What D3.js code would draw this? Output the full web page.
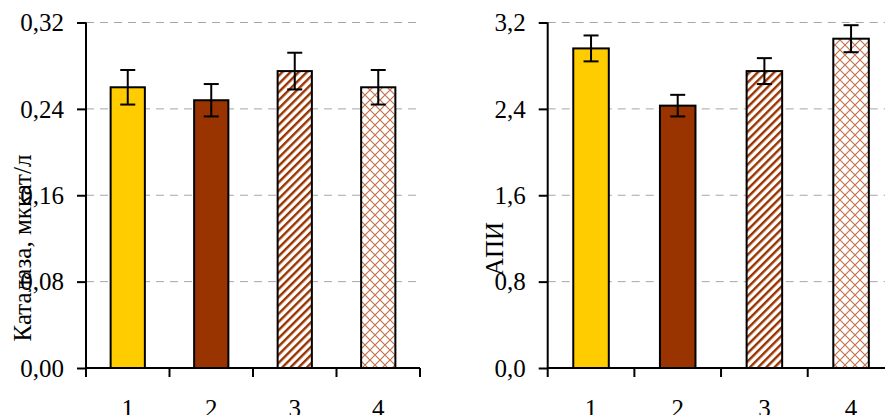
<!DOCTYPE html>
<html>
<head>
<meta charset="utf-8">
<script src="https://cdn.jsdelivr.net/npm/d3@7"></script>
<style>
  html, body { margin: 0; padding: 0; background: #fff; }
  svg { display: block; }
  text { font-family: "Liberation Serif", "Times New Roman", serif; fill: #000; }
</style>
</head>
<body>
<svg id="chart" width="885" height="415"></svg>
<script>
// Groups shown on the horizontal axis
const categories = ["1", "2", "3", "4"];

// Catalase activity, μkat/l (mean and error)
const catalaseValues = [0.26, 0.248, 0.275, 0.26];
const catalaseErrors = [0.016, 0.015, 0.017, 0.016];
const catalaseTicks = [0, 0.08, 0.16, 0.24, 0.32];

// Antioxidant protection index (mean and error)
const apiValues = [2.96, 2.43, 2.75, 3.05];
const apiErrors = [0.12, 0.10, 0.12, 0.125];
const apiTicks = [0, 0.8, 1.6, 2.4, 3.2];

const svg = d3.select("#chart");

// Fill patterns for groups 3 and 4
const defs = svg.append("defs");
const stripes = defs.append("pattern")
  .attr("id", "stripes")
  .attr("patternUnits", "userSpaceOnUse")
  .attr("width", 5.8).attr("height", 10)
  .attr("patternTransform", "rotate(45)");
stripes.append("rect").attr("width", 5.8).attr("height", 10).attr("fill", "#fff");
stripes.append("rect").attr("width", 2.4).attr("height", 10).attr("fill", "#993300");

const cross = defs.append("pattern")
  .attr("id", "cross")
  .attr("patternUnits", "userSpaceOnUse")
  .attr("width", 10).attr("height", 10);
cross.append("rect").attr("width", 10).attr("height", 10).attr("fill", "#fff");
cross.append("path")
  .attr("d", "M0,0L10,10M10,0L0,10")
  .attr("stroke", "#b65a30").attr("stroke-width", 1.2).attr("fill", "none")
  .attr("stroke-opacity", 0.85);

const fills = ["#FFCC00", "#993300", "url(#stripes)", "url(#cross)"];

function drawPanel(opts) {
  const { x0, x1, top, bottom, values, errors, ticks, fmt, title, titleX, titleY } = opts;
  const g = svg.append("g");

  const y = d3.scaleLinear().domain([ticks[0], ticks[ticks.length - 1]]).range([bottom, top]);
  const x = d3.scaleBand().domain(categories).range([x0, x1]).padding(0);
  const bw = x.bandwidth();
  const barW = bw * 0.41;

  // dashed gridlines
  g.selectAll(".grid").data(ticks.slice(1)).join("line")
    .attr("x1", x0).attr("x2", x1)
    .attr("y1", d => y(d)).attr("y2", d => y(d))
    .attr("stroke", "#a6a6a6").attr("stroke-width", 1)
    .attr("stroke-dasharray", "8,6");

  // bars
  g.selectAll(".bar").data(values).join("rect")
    .attr("x", (d, i) => x(categories[i]) + (bw - barW) / 2)
    .attr("y", d => y(d))
    .attr("width", barW)
    .attr("height", d => y(0) - y(d))
    .attr("fill", (d, i) => fills[i])
    .attr("stroke", "#000").attr("stroke-width", 2);

  // error bars
  const eb = g.selectAll(".err").data(values).join("g")
    .attr("transform", (d, i) => `translate(${x(categories[i]) + bw / 2},0)`);
  eb.append("line")
    .attr("y1", (d, i) => y(d - errors[i])).attr("y2", (d, i) => y(d + errors[i]))
    .attr("stroke", "#000").attr("stroke-width", 2);
  eb.append("line")
    .attr("x1", -7.5).attr("x2", 7.5)
    .attr("y1", (d, i) => y(d + errors[i])).attr("y2", (d, i) => y(d + errors[i]))
    .attr("stroke", "#000").attr("stroke-width", 2);
  eb.append("line")
    .attr("x1", -7.5).attr("x2", 7.5)
    .attr("y1", (d, i) => y(d - errors[i])).attr("y2", (d, i) => y(d - errors[i]))
    .attr("stroke", "#000").attr("stroke-width", 2);

  // y axis
  const yAxis = g.append("g")
    .attr("transform", `translate(${x0},0)`)
    .call(d3.axisLeft(y).tickValues(ticks).tickSize(9).tickPadding(13)
      .tickFormat(d => fmt(d).replace(".", ",")));
  yAxis.select(".domain").attr("stroke", "#000").attr("stroke-width", 2)
    .attr("d", `M0,${top}V${bottom}`);
  yAxis.selectAll(".tick line").attr("stroke", "#000").attr("stroke-width", 2);
  yAxis.selectAll(".tick text")
    .style("font-family", '"Liberation Serif", "Times New Roman", serif')
    .style("font-size", "25px").attr("fill", "#000").attr("dy", "0.33em");

  // x axis: ticks at group boundaries, labels at group centres
  const xAxis = g.append("g").attr("transform", `translate(0,${bottom})`);
  xAxis.append("line").attr("x1", x0).attr("x2", x1)
    .attr("stroke", "#000").attr("stroke-width", 2);
  const bounds = categories.map(c => x(c)).concat([x1]);
  xAxis.selectAll(".bt").data(bounds).join("line")
    .attr("x1", d => d).attr("x2", d => d)
    .attr("y1", 0).attr("y2", 9)
    .attr("stroke", "#000").attr("stroke-width", 2);
  xAxis.selectAll(".lbl").data(categories).join("text")
    .attr("x", d => x(d) + bw / 2).attr("y", 49)
    .attr("text-anchor", "middle")
    .style("font-size", "25px")
    .text(d => d);

  // axis title
  g.append("text")
    .attr("transform", `translate(${titleX},${titleY}) rotate(-90)`)
    .attr("text-anchor", "middle")
    .style("font-size", "25px")
    .text(title);
}

drawPanel({
  x0: 86, x1: 420, top: 22.5, bottom: 368,
  values: catalaseValues, errors: catalaseErrors, ticks: catalaseTicks,
  fmt: d3.format(".2f"), title: "Каталаза, мккат/л", titleX: 31, titleY: 248
});

drawPanel({
  x0: 547.7, x1: 894.4, top: 22.5, bottom: 368,
  values: apiValues, errors: apiErrors, ticks: apiTicks,
  fmt: d3.format(".1f"), title: "АПИ", titleX: 503, titleY: 249
});
</script>
</body>
</html>
